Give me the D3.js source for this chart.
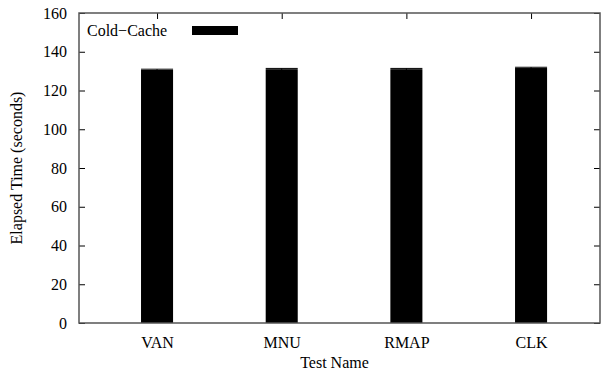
<!DOCTYPE html>
<html>
<head>
<meta charset="utf-8">
<script src="https://cdn.jsdelivr.net/npm/d3@7"></script>
<style>
  body { margin: 0; background: #fff; }
</style>
</head>
<body>
<div id="chart"></div>
<script>
// data
const tests = ['VAN', 'MNU', 'RMAP', 'CLK'];
const elapsed = [130.6, 131.0, 131.0, 131.6];
const errs = [0.4, 0.4, 0.4, 0.4];
const yTicks = [0, 20, 40, 60, 80, 100, 120, 140, 160];
const seriesName = 'Cold\u2212Cache';

const FONT = "'Liberation Serif', 'Times New Roman', Times, Tinos, 'DejaVu Serif', serif";

const W = 608, H = 372;
const margin = { top: 13, right: 8, bottom: 49, left: 79 };
const width = W - margin.left - margin.right;
const height = H - margin.top - margin.bottom;

const svg = d3.select('#chart')
  .append('svg')
  .attr('width', W)
  .attr('height', H)
  .attr('font-family', FONT);

const g = svg.append('g')
  .attr('transform', `translate(${margin.left},${margin.top})`);

const x = d3.scaleLinear()
  .domain([-0.626, tests.length - 0.447])
  .range([0, width]);

const y = d3.scaleLinear()
  .domain([0, 160])
  .range([height, 0]);

const barW = x(0.257) - x(0);

// bars
g.selectAll('rect.bar')
  .data(tests)
  .enter().append('rect')
  .attr('class', 'bar')
  .attr('x', (d, i) => x(i) - barW / 2)
  .attr('y', (d, i) => y(elapsed[i]))
  .attr('width', barW)
  .attr('height', (d, i) => height - y(elapsed[i]))
  .attr('fill', '#000');

// error bars
const eb = g.selectAll('g.err')
  .data(tests)
  .enter().append('g')
  .attr('class', 'err');
eb.append('line')
  .attr('x1', (d, i) => x(i)).attr('x2', (d, i) => x(i))
  .attr('y1', (d, i) => y(elapsed[i] + errs[i]))
  .attr('y2', (d, i) => y(elapsed[i] - errs[i]))
  .attr('stroke', '#000');
eb.append('line')
  .attr('x1', (d, i) => x(i) - barW / 2).attr('x2', (d, i) => x(i) + barW / 2)
  .attr('y1', (d, i) => y(elapsed[i] + errs[i]))
  .attr('y2', (d, i) => y(elapsed[i] + errs[i]))
  .attr('stroke', '#000');

// axes (gnuplot style, ticks inward and mirrored)
const axisY = g.append('g')
  .call(d3.axisLeft(y).tickValues(yTicks).tickSize(-6).tickPadding(12));
const axisY2 = g.append('g')
  .attr('transform', `translate(${width},0)`)
  .call(d3.axisRight(y).tickValues(yTicks).tickSize(-6).tickFormat(''));
const axisX = g.append('g')
  .attr('transform', `translate(0,${height})`)
  .call(d3.axisBottom(x).tickValues(d3.range(tests.length)).tickSize(-6).tickPadding(14)
    .tickFormat(i => tests[i]));
const axisX2 = g.append('g')
  .call(d3.axisTop(x).tickValues(d3.range(tests.length)).tickSize(-6).tickFormat(''));

[axisY, axisY2, axisX, axisX2].forEach(a => {
  a.attr('font-family', FONT).attr('font-size', 16);
  a.select('.domain').remove();
  a.selectAll('.tick line').attr('stroke', '#000');
  a.selectAll('text').attr('fill', '#000');
});

// frame
g.append('rect')
  .attr('x', 0).attr('y', 0)
  .attr('width', width).attr('height', height)
  .attr('fill', 'none')
  .attr('stroke', '#555')
  .attr('stroke-width', 1.5);

// axis titles
svg.append('text')
  .attr('x', margin.left + width / 2 - 5)
  .attr('y', H - 4)
  .attr('text-anchor', 'middle')
  .attr('font-size', 16)
  .text('Test Name');

svg.append('text')
  .attr('transform', `translate(22,${margin.top + height / 2}) rotate(-90)`)
  .attr('text-anchor', 'middle')
  .attr('font-size', 16)
  .text('Elapsed Time (seconds)');

// legend
const leg = g.append('g').attr('transform', 'translate(8,18)');
leg.append('text')
  .attr('x', 0).attr('y', 5)
  .attr('font-size', 16)
  .text(seriesName);
leg.append('rect')
  .attr('x', 105).attr('y', -5)
  .attr('width', 46).attr('height', 9)
  .attr('fill', '#000');
</script>
</body>
</html>
